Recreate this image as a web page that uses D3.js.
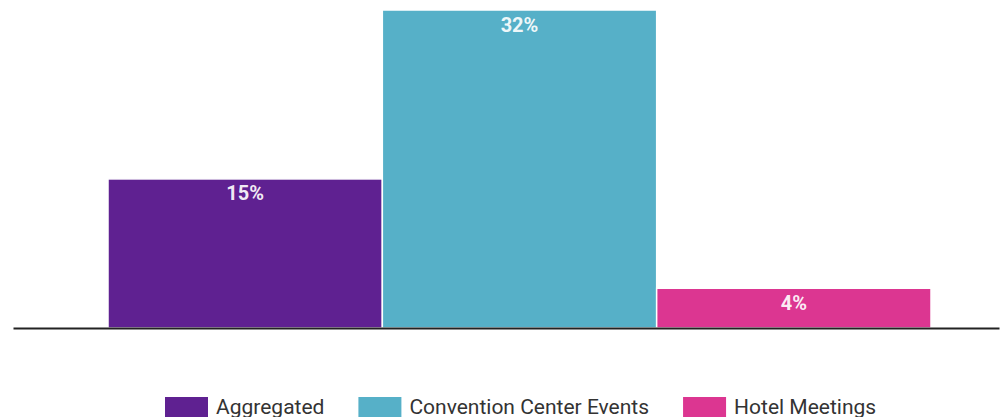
<!DOCTYPE html>
<html>
<head>
<meta charset="utf-8">
<script src="https://cdn.jsdelivr.net/npm/d3@7"></script>
<style>
  html, body { margin: 0; padding: 0; background: #fff; }
  svg { display: block; font-family: Roboto, "Noto Sans", sans-serif; }
</style>
</head>
<body>
<svg id="chart" width="1001" height="417"></svg>
<script>
// Share of events by venue type
const categories = ["Aggregated", "Convention Center Events", "Hotel Meetings"];
const values = [15, 32, 4];
const valueLabels = ["15%", "32%", "4%"];
const colors = ["#5f2191", "#56b0c8", "#dc3691"];

const svg = d3.select("#chart");
const baseline = 328;

const x = d3.scaleBand()
  .domain(categories)
  .range([108, 931])
  .padding(0);

const y = d3.scaleLinear()
  .domain([0, 32])
  .range([baseline, 10]);

const color = d3.scaleOrdinal().domain(categories).range(colors);

const data = categories.map((c, i) => ({ cat: c, value: values[i], label: valueLabels[i] }));

// bars
svg.append("g")
  .selectAll("rect")
  .data(data)
  .join("rect")
  .attr("x", d => x(d.cat))
  .attr("y", d => y(d.value))
  .attr("width", x.bandwidth())
  .attr("height", d => y(0) - y(d.value))
  .attr("fill", d => color(d.cat))
  .attr("stroke", "#ffffff")
  .attr("stroke-width", 1.5);

// value labels inside bars
svg.append("g")
  .selectAll("text")
  .data(data)
  .join("text")
  .attr("x", d => x(d.cat) + x.bandwidth() / 2)
  .attr("y", d => y(d.value) + 21.5)
  .attr("text-anchor", "middle")
  .attr("fill", "#ffffff")
  .attr("fill-opacity", 0.92)
  .attr("font-size", 20)
  .attr("font-weight", 700)
  .text(d => d.label);

// baseline axis
const xAxis = d3.axisBottom(d3.scaleLinear().range([13, 999])).ticks(0).tickSize(0);
svg.append("g")
  .attr("transform", `translate(0,${baseline})`)
  .call(xAxis)
  .call(g => g.select(".domain").attr("stroke", "#222").attr("stroke-width", 2))
  .call(g => g.selectAll(".tick").remove());

// legend
const legend = svg.append("g");
const items = legend.selectAll("g")
  .data(categories)
  .join("g");

items.append("rect")
  .attr("width", 43)
  .attr("height", 22)
  .attr("y", 397)
  .attr("fill", d => color(d));

items.append("text")
  .attr("x", 51)
  .attr("y", 414)
  .attr("font-size", 21)
  .attr("fill", "#333")
  .text(d => d);

// lay out legend entries side by side, starting under the first bar
let offsets = [], cursor = 0;
items.each(function () {
  const w = d3.select(this).select("text").node().getComputedTextLength();
  offsets.push(cursor);
  cursor += 51 + w + 34;
});
const start = 165;
items.attr("transform", (d, i) => `translate(${start + offsets[i]},0)`);
</script>
</body>
</html>
